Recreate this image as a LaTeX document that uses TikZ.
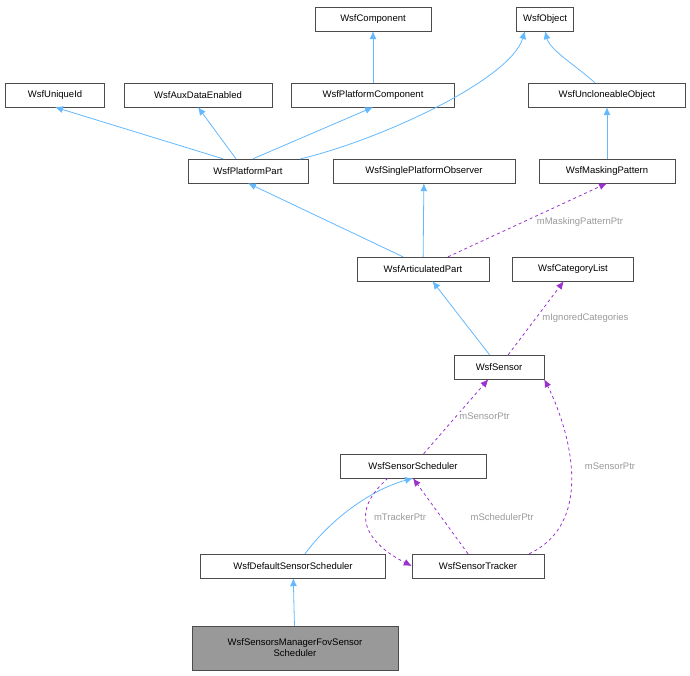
\documentclass[tikz,border=0pt]{standalone}
\usepackage{fontspec}
\setmainfont{Liberation Sans}
\usetikzlibrary{arrows.meta}
\definecolor{inh}{HTML}{63B8FF}
\definecolor{use}{HTML}{9A32CD}
\definecolor{lbl}{HTML}{9A9A9A}
\begin{document}
\begin{tikzpicture}[x=1pt,y=-1pt,
  box/.style={draw=black!70,fill=white,minimum height=24pt,inner sep=0pt,font=\fontsize{9.5}{11}\selectfont,anchor=center},
  inh/.style={draw=inh,line width=0.8pt,-{Latex[length=8pt,width=7pt,fill=inh]}},
  use/.style={draw=use,line width=0.8pt,dashed,-{Latex[length=8pt,width=7pt,fill=use]}},
  lab/.style={text=lbl,font=\fontsize{9.5}{11}\selectfont,fill=white,inner sep=1pt}]
\useasboundingbox (0,0) rectangle (690,676);
\node[box,minimum width=116pt] (comp) at (373,19) {WsfComponent};
\node[box,minimum width=57pt] (obj) at (545,19) {WsfObject};
\node[box,minimum width=99pt] (uid) at (55,95) {WsfUniqueId};
\node[box,minimum width=148pt] (aux) at (198,95) {WsfAuxDataEnabled};
\node[box,minimum width=163pt] (pc) at (373,95) {WsfPlatformComponent};
\node[box,minimum width=157pt] (unc) at (607,95) {WsfUncloneableObject};
\node[box,minimum width=120pt] (pp) at (248,171) {WsfPlatformPart};
\node[box,minimum width=182pt] (spo) at (424,171) {WsfSinglePlatformObserver};
\node[box,minimum width=136pt] (mask) at (607,171) {WsfMaskingPattern};
\node[box,minimum width=132pt] (art) at (423,269) {WsfArticulatedPart};
\node[box,minimum width=121pt] (cat) at (573,269) {WsfCategoryList};
\node[box,minimum width=90pt] (sen) at (499,367) {WsfSensor};
\node[box,minimum width=146pt] (sch) at (413,466) {WsfSensorScheduler};
\node[box,minimum width=185pt] (def) at (293,566) {WsfDefaultSensorScheduler};
\node[box,minimum width=132pt] (trk) at (478,566) {WsfSensorTracker};
\node[box,minimum width=206pt,minimum height=44pt,fill=black!40,align=center] (fov) at (295,648) {WsfSensorsManagerFovSensor\\Scheduler};
\coordinate (ppt) at (300,159);
\coordinate (objb) at (525,31);
\draw[inh] (pc) -- (comp);
\draw[inh] (pp.north) ++(-25,0) -- (uid.south);
\draw[inh] (pp.north) ++(-12,0) -- (aux.south);
\draw[inh] (pp.north) ++(5,0) -- (pc.south);
\draw[inh] (ppt) .. controls (380,140) and (510,80) .. (objb);
\draw[inh] (unc.north) ++(-12,0) .. controls (575,65) and (550,50) .. (obj.south);
\draw[inh] (mask) -- (unc);
\draw[inh] (art.north) ++(-20,0) -- (pp.south);
\draw[inh] (art) -- (spo);
\draw[use] (art.north) ++(25,0) -- node[lab,pos=0.5,anchor=west,xshift=8pt,yshift=-2pt]{mMaskingPatternPtr} (mask.south);
\draw[inh] (sen) -- (art);
\draw[use] (sen) -- node[lab,pos=0.5,anchor=west,xshift=5pt]{mIgnoredCategories} (cat);
\draw[use] (sch) -- node[lab,pos=0.5,anchor=west,xshift=2pt]{mSensorPtr} (sen);
\draw[use] (trk.north east) ++(-15,0) .. controls (600,520) and (565,420) .. (sen.south east) node[lab,pos=0.55,anchor=west,xshift=-30pt]{} ;
\node[lab] at (610,466) {mSensorPtr};
\draw[inh] (def.north) ++(12,0) .. controls (330,520) and (370,490) .. (sch.south);
\draw[use] (sch.south) ++(-25,0) .. controls (340,520) and (380,550) .. (trk.west);
\node[lab] at (400,517) {mTrackerPtr};
\draw[use] (trk.north) ++(-10,0) -- (sch.south);
\node[lab] at (502,517) {mSchedulerPtr};
\draw[inh] (fov) -- (def);
\end{tikzpicture}
\end{document}
